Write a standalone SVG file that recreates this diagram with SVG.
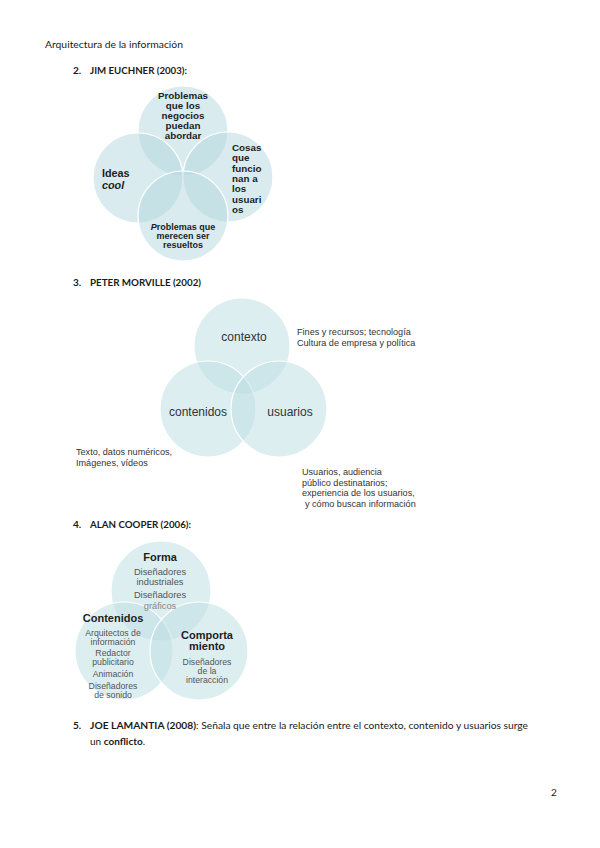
<svg xmlns="http://www.w3.org/2000/svg" width="600" height="848" viewBox="0 0 600 848">
<style>
.doc{font-family:Lato,"Open Sans","Liberation Sans",sans-serif;fill:#1a1a1a;font-size:10px}
.b{font-weight:bold}
.c{fill:#b3d7dd;fill-opacity:0.5;stroke:#ffffff;stroke-width:1.2}
.c2{fill:#bcdde2;fill-opacity:0.5;stroke:#ffffff;stroke-width:1.2}
.e{font-family:"Liberation Sans",Arial,sans-serif;font-weight:bold;fill:#1e1e1e;font-size:9.8px}
.m{font-family:"Liberation Sans",Arial,sans-serif;fill:#333;font-size:12px;text-anchor:middle}
.s{font-family:"Liberation Sans",Arial,sans-serif;fill:#333;font-size:9.1px}
.k{font-family:"Liberation Sans",Arial,sans-serif;fill:#555;font-size:8.7px;text-anchor:middle}
.kh{font-family:"Liberation Sans",Arial,sans-serif;fill:#1e1e1e;font-size:11px;font-weight:bold;text-anchor:middle}
</style>
<rect width="600" height="848" fill="#ffffff"/>
<g id="page-text" class="doc">
<text x="45" y="48" textLength="138" lengthAdjust="spacingAndGlyphs">Arquitectura de la información</text>
<text x="73" y="74" class="b">2.</text>
<text x="90" y="74" class="b" textLength="97" lengthAdjust="spacingAndGlyphs">JIM EUCHNER (2003):</text>
<text x="73" y="286" class="b">3.</text>
<text x="90" y="286" class="b" textLength="111" lengthAdjust="spacingAndGlyphs">PETER MORVILLE (2002)</text>
<text x="73" y="528" class="b">4.</text>
<text x="90" y="528" class="b" textLength="101" lengthAdjust="spacingAndGlyphs">ALAN COOPER (2006):</text>
<text x="73" y="729" class="b">5.</text>
<text x="90" y="729" textLength="438" lengthAdjust="spacingAndGlyphs"><tspan class="b">JOE LAMANTIA (2008)</tspan>: Señala que entre la relación entre el contexto, contenido y usuarios surge</text>
<text x="90" y="745">un <tspan class="b">conflicto</tspan>.</text>
<text x="551" y="796">2</text>
</g>
<g id="euchner">
<g id="e-top"><circle class="c" cx="183" cy="131" r="45"/></g>
<g id="e-left"><circle class="c" cx="138" cy="178" r="45"/></g>
<g id="e-right"><circle class="c" cx="228" cy="177" r="45"/></g>
<g id="e-bottom"><circle class="c" cx="183" cy="216" r="45"/></g>
<g class="e" text-anchor="middle">
<text x="183" y="99">Problemas</text>
<text x="183" y="109">que los</text>
<text x="183" y="119">negocios</text>
<text x="183" y="129">puedan</text>
<text x="183" y="139">abordar</text>
</g>
<g class="e">
<text x="232" y="151">Cosas</text>
<text x="232" y="161">que</text>
<text x="232" y="171.5">funcio</text>
<text x="232" y="182">nan a</text>
<text x="232" y="192">los</text>
<text x="232" y="202.5">usuari</text>
<text x="232" y="213">os</text>
</g>
<g class="e" style="font-size:10.8px">
<text x="102" y="177">Ideas</text>
<text x="102" y="189" font-style="italic">cool</text>
</g>
<g class="e" text-anchor="middle" style="font-size:9px">
<text x="183" y="230"><tspan font-style="italic">P</tspan>roblemas que</text>
<text x="183" y="239">merecen ser</text>
<text x="183" y="248">resueltos</text>
</g>
</g>
<g id="morville">
<g id="m-contexto"><circle class="c2" cx="242" cy="346" r="48"/><text class="m" x="244" y="341">contexto</text></g>
<g id="m-contenidos"><circle class="c2" cx="208" cy="409" r="48"/><text class="m" x="198" y="416">contenidos</text></g>
<g id="m-usuarios"><circle class="c2" cx="279" cy="409" r="48"/><text class="m" x="290" y="416">usuarios</text></g>
<g class="s">
<text x="297" y="335">Fines y recursos; tecnología</text>
<text x="297" y="346">Cultura de empresa y política</text>
<text x="76" y="455">Texto, datos numéricos,</text>
<text x="76" y="466">Imágenes, vídeos</text>
<text x="302" y="475">Usuarios, audiencia</text>
<text x="302" y="485.5">público destinatarios;</text>
<text x="302" y="496">experiencia de los usuarios,</text>
<text x="305" y="506.5">y cómo buscan información</text>
</g>
</g>
<g id="cooper">
<g id="c-forma"><circle class="c2" cx="161" cy="591" r="50"/></g>
<g id="c-contenidos"><circle class="c2" cx="124" cy="651" r="49"/></g>
<g id="c-comportamiento"><circle class="c2" cx="199" cy="651" r="49"/></g>
<text class="kh" x="160" y="561">Forma</text>
<g class="k" style="font-size:9.3px">
<text x="160" y="575">Diseñadores</text>
<text x="160" y="584.5">industriales</text>
<text x="160" y="597.5">Diseñadores</text>
<text x="160" y="608.5" fill="#888">gráficos</text>
</g>
<text class="kh" x="113" y="622">Contenidos</text>
<g class="k">
<text x="113" y="636">Arquitectos de</text>
<text x="113" y="645">información</text>
<text x="113" y="656">Redactor</text>
<text x="113" y="665">publicitario</text>
<text x="113" y="677">Animación</text>
<text x="113" y="689">Diseñadores</text>
<text x="113" y="698">de sonido</text>
</g>
<text class="kh" x="207" y="639">Comporta</text>
<text class="kh" x="207" y="650">miento</text>
<g class="k">
<text x="207" y="665">Diseñadores</text>
<text x="207" y="674">de la</text>
<text x="207" y="683">interacción</text>
</g>
</g>
<g id="connectors"/>
</svg>
